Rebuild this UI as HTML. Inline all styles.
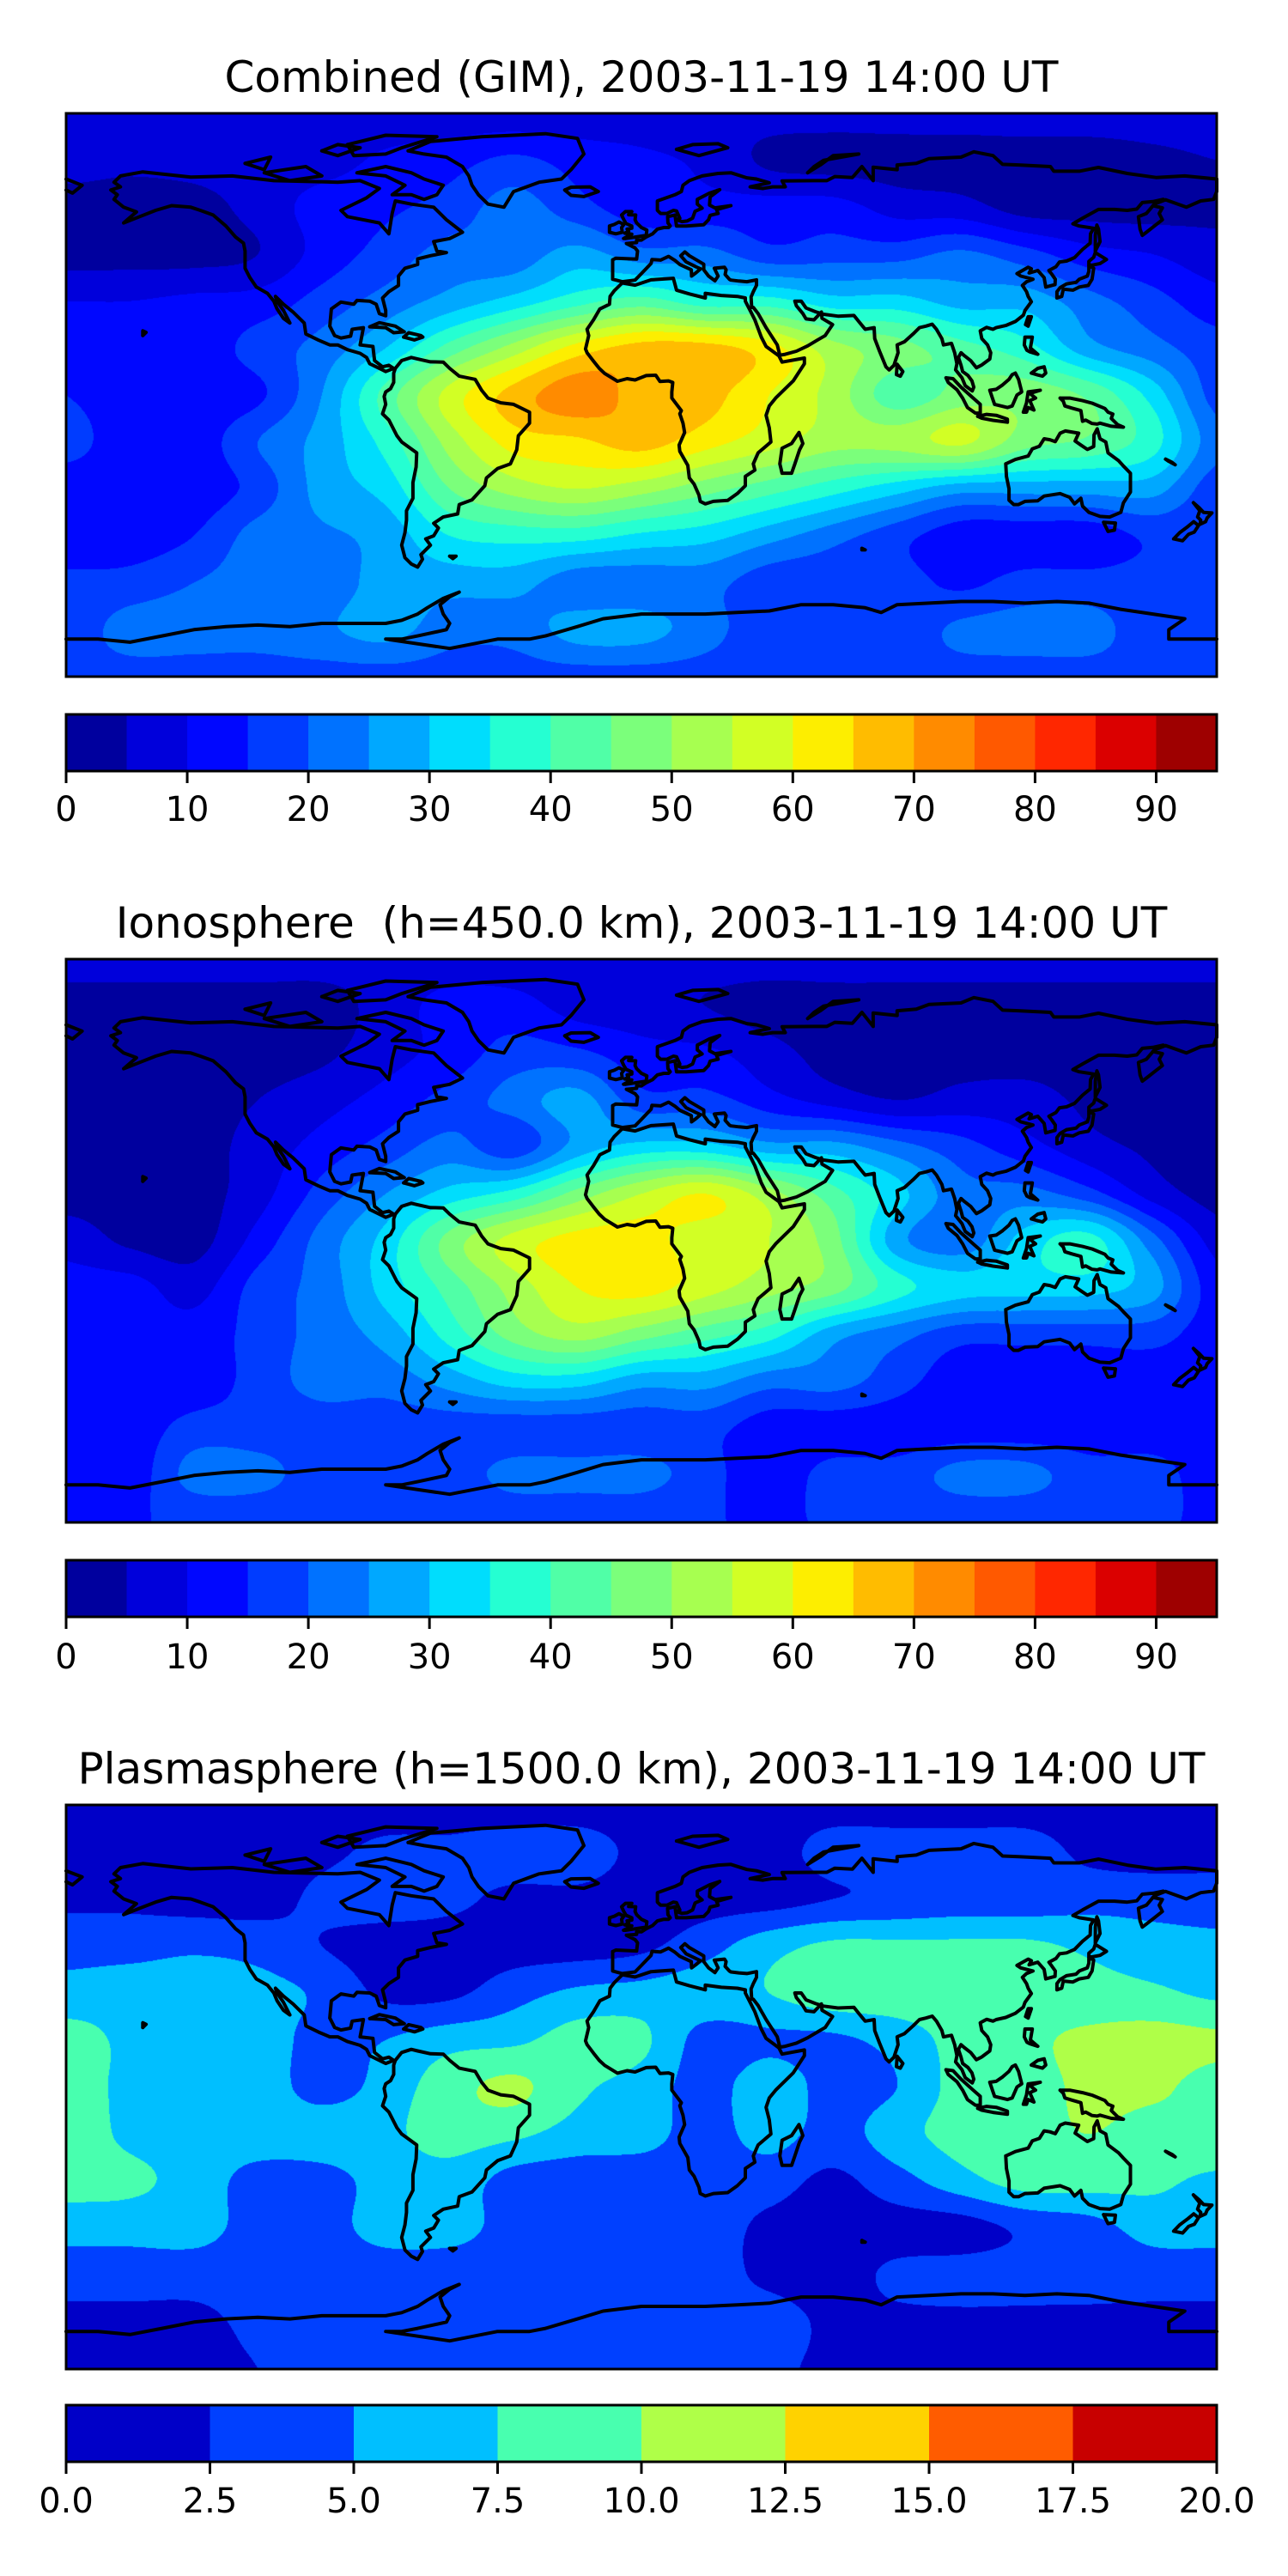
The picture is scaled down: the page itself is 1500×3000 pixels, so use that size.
<!DOCTYPE html>
<html><head><meta charset="utf-8">
<style>
html,body{margin:0;padding:0;background:#fff;}
#root{position:relative;width:1500px;height:3000px;background:#fff;overflow:hidden;}
canvas{position:absolute;left:77px;}
svg{position:absolute;left:0;top:0;}
text{font-family:"DejaVu Sans","Liberation Sans",sans-serif;fill:#000;white-space:pre;}
</style></head>
<body>
<div id="root">
<canvas id="c0" width="1340" height="656" style="top:132px"></canvas>
<canvas id="c1" width="1340" height="656" style="top:1117px"></canvas>
<canvas id="c2" width="1340" height="657" style="top:2102px"></canvas>
<svg id="ov" width="1500" height="3000"></svg>
</div>
<script>
// ---- data ----
const gridLats = [90,75,60,45,30,15,0,-15,-30,-45,-60,-75,-90];
const gridLons = [-180,-160,-140,-120,-100,-80,-60,-40,-20,0,20,40,60,80,100,120,140,160,180];
const tecCombined = [
[7,7,7,7,7,7,7,7,7,7,7,7,7,7,7,7,7,7,7],
[7,6,7,8,8,11,13,16,13,11,9,4,3,3,3,3,3,4,5],
[3,3,3,7,12,14,17,22,17,12,12,12,12,8,7,3,3,3,4],
[3,3,3,5,12,17,22,22,27,22,22,17,18,18,21,17,12,10,7],
[10,10,11,12,17,22,27,32,38,42,37,37,32,32,28,28,22,17,12],
[14,12,12,17,22,30,42,52,62,67,67,62,52,47,42,37,27,22,17],
[15,12,12,14,25,42,57,67,73,68,67,60,53,42,47,48,44,33,18],
[17,12,12,20,27,37,52,62,64,67,62,57,52,52,56,47,44,37,22],
[12,12,12,17,27,32,45,52,55,52,47,42,37,32,27,27,27,27,17],
[12,12,15,22,24,27,35,37,37,34,32,27,22,17,12,12,12,16,15],
[16,17,20,22,22,27,27,27,22,22,22,17,17,17,14,17,17,17,17],
[17,22,22,22,24,27,22,22,27,27,22,17,17,17,21,22,22,17,17],
[18,18,18,18,18,18,18,18,18,18,18,18,18,18,18,18,18,18,18]];
const tecIono = [
[7,7,7,7,7,7,7,7,7,7,7,7,7,7,7,7,7,7,7],
[3,3,3,3,3,7,12,12,8,7,5,3,3,3,3,3,3,3,3],
[3,3,3,3,4,8,12,17,16,12,11,7,3,3,3,3,3,3,3],
[3,3,3,5,8,12,17,22,27,17,17,12,8,5,7,7,4,3,3],
[3,3,3,7,12,17,22,17,27,32,32,27,27,22,17,12,7,4,3],
[3,3,3,8,17,25,32,37,47,55,60,52,42,32,22,22,17,8,3],
[8,4,3,12,22,32,47,57,62,62,57,55,47,27,22,32,37,22,8],
[12,12,8,17,22,32,42,52,60,62,57,52,47,37,32,32,32,27,12],
[12,12,12,17,22,27,37,47,52,47,42,37,27,22,17,17,17,17,12],
[12,12,12,17,22,22,27,32,32,27,27,22,22,17,12,12,12,12,12],
[12,12,17,17,17,17,17,17,17,17,17,12,12,12,12,12,12,12,12],
[12,12,22,22,17,17,17,22,22,22,17,12,17,17,22,22,17,17,12],
[15,15,15,15,15,15,15,15,15,15,15,15,15,15,15,15,15,15,15]];
const tecPlasma = [
[1.5,1.5,1.5,1.5,1.5,1.5,1.5,1.5,1.5,1.5,1.5,1.5,1.5,1.5,1.5,1.5,1.5,1.5,1.5],
[1.5,1.5,1.5,1.5,2,3,3,3.5,3.5,2,2,1.5,3.5,3.5,3.5,3.5,2,1.5,1.5],
[2,2,1.5,1.5,3,3.5,3,2,2,1.5,1.5,1.5,2.5,3,3.5,3.5,4,4,4],
[4,4,4.5,4,2.5,1.5,1.5,1.5,1.5,2,4,6.5,8,8,8,8,7,6,5.5],
[6,6.5,6.5,6,4.5,2,2,4,5.5,6,6.5,7.5,9,9,9,9,8.5,8,7],
[8.5,7,6.5,6.5,4,5,6.5,7,8.5,8,4,4.5,4.5,6,8.5,9.5,10.5,11,10.5],
[8.5,7,6.5,6.5,4,6,9,10.5,8,6.5,4,6.5,4,5,8.5,9,10.5,10.5,9],
[9,7,6.5,6.5,6.5,7,8.5,8,6.5,6,4,6,4,6.5,8.5,9,10,9,9.5],
[8.5,8,6.5,4,4,6,6.5,4,3.5,3.5,3.5,3.5,2,4,6.5,8.5,8.5,8,7],
[6,6,6,4,4,6,6,4,3.5,3.5,3.5,2,1.5,1.5,1.5,3,4,6,6],
[3.5,3.5,3.5,3.5,3.5,3.5,3.5,3.5,3.5,3.5,3.5,2,1.5,3,3.5,3.5,3.5,3.5,3.5],
[2,2,2,3,3.5,3.5,3.5,3.5,3.5,3.5,3.5,3.5,2,2,2,2,2,2,2],
[2,2,2,2.5,3.5,3.5,3.5,3.5,3.5,3.5,3.5,3,2,2,2,2,2,2,2]];
const levelsTec = [0,5,10,15,20,25,30,35,40,45,50,55,60,65,70,75,80,85,90,95];
const levelsPlasma = [0,2.5,5,7.5,10,12.5,15,17.5,20];
const ticksTec = [0,10,20,30,40,50,60,70,80,90];
const tickLabelsTec = ["0","10","20","30","40","50","60","70","80","90"];
const ticksPlasma = [0,2.5,5,7.5,10,12.5,15,17.5,20];
const tickLabelsPlasma = ["0.0","2.5","5.0","7.5","10.0","12.5","15.0","17.5","20.0"];
const titles = ["Combined (GIM), 2003-11-19 14:00 UT","Ionosphere  (h=450.0 km), 2003-11-19 14:00 UT","Plasmasphere (h=1500.0 km), 2003-11-19 14:00 UT"];

// coastlines [lon,lat]
const coasts = [
[[-165,68],[-163,70],[-156,71.3],[-141,69.6],[-128,70],[-115,68.5],[-95,68],[-88,68.5],[-82,66],[-86,63],[-94,59],[-92,57],[-82,55],[-79,51.5],[-78,58],[-77,62],[-72,61],[-65,60],[-61,56],[-56,52],[-60,50],[-65,49],[-64,46],[-61,45.5],[-66,44.5],[-70,43.5],[-70,41.7],[-74,40.5],[-76,38],[-76,35],[-79,33],[-81,31],[-80,27],[-80,25.3],[-82,26],[-83,29],[-85,30],[-89,30.2],[-90,29],[-94,29.7],[-97,27.5],[-97.5,22],[-96,19],[-94,18.2],[-91,18.8],[-90.5,21],[-87,21.5],[-88,16],[-84,15.5],[-83.5,11],[-81,9],[-79,9.5],[-77.5,8.5],[-80,7.5],[-81,8],[-85,10],[-86,12],[-88,13.3],[-92,14.5],[-95,16],[-97.5,16],[-101,17.5],[-105,19.5],[-105.5,23],[-109,26.5],[-112,29],[-114.5,31.5],[-114,30],[-112,27],[-110,23],[-112,24.5],[-114,27.5],[-115,30],[-117,32.5],[-120.5,34.5],[-122.5,37.5],[-124,40.5],[-124,46],[-124.5,48.5],[-127,50.5],[-130,54],[-134,57.5],[-138,59],[-141,60],[-147,60.5],[-152,59],[-157,57],[-162,55],[-158,58.5],[-162,60],[-165,62.5],[-164,64],[-166,65.5],[-163,66.5],[-165,68]],
[[-73,78],[-66,81],[-50,82.5],[-30,83.5],[-20,82],[-18,77],[-22,72],[-25,69],[-32,68],[-40,65],[-43,60],[-48,61],[-51,64],[-53,67],[-54,70],[-56,73],[-61,76],[-68,77],[-73,78]],
[[-80,73],[-72,71],[-68,69],[-62,67],[-64,64],[-68,62.5],[-72,64],[-78,64],[-74,67],[-80,70],[-89,71],[-80,73]],
[[-92,80],[-80,83],[-64,82.5],[-75,79],[-80,77],[-90,76.5],[-92,80]],
[[-118,71],[-105,73],[-100,70],[-110,68.5],[-118,71]],
[[-124,74],[-116,76],[-118,72],[-124,74]],
[[-100,78],[-95,80],[-88,79],[-95,76.5],[-100,78]],
[[-24,65.5],[-22,66.4],[-16,66.5],[-13.5,65],[-18,63.4],[-22,63.8],[-24,65.5]],
[[-77,8.5],[-75,11],[-72,12],[-70,11.5],[-66,10.6],[-62,10.5],[-60,8.5],[-57,6],[-52,5],[-50,1.5],[-48,-1],[-44,-2.5],[-40,-3],[-35,-5.5],[-35,-9],[-38.5,-13],[-39,-17.5],[-41,-22],[-45,-23.5],[-48.5,-26.5],[-49,-29],[-53,-33.5],[-57,-35],[-57.5,-38],[-62,-39],[-65,-41],[-63.5,-42.5],[-65,-45],[-67.5,-46],[-66,-48],[-69,-51],[-68.5,-52.5],[-70,-55],[-72,-54],[-74,-52],[-75,-48],[-74,-44],[-73.5,-40],[-73.5,-37],[-71.5,-33],[-71.5,-28],[-70.5,-23],[-70.3,-18.5],[-75,-15],[-76.5,-13],[-79,-8],[-81,-6],[-80,-3],[-80.5,-0.5],[-80,1],[-78.5,2],[-77.5,4],[-77.5,7],[-77,8.5]],
[[-6,35.8],[-2,35.1],[3,36.8],[10,37.3],[11,33.5],[15,32.3],[20,31],[20,32.5],[25,31.8],[30,31.5],[32.5,31],[32.5,30],[34,27],[35.5,24],[37.5,18.5],[39,15.5],[43,12.5],[44,10.5],[51,11.8],[51,10],[47.5,4.5],[42,-1],[40,-3.5],[39,-6.5],[40,-10.5],[40.5,-15],[36.5,-18.5],[35,-22],[35.5,-24],[32.5,-26],[32.5,-29],[30,-31.5],[27,-33.7],[22.5,-34],[20,-34.8],[18.4,-34],[18,-32],[16.5,-28.5],[15,-26.5],[14.5,-22.5],[12,-18],[11.8,-16],[13.5,-12],[13,-9],[12,-6],[12.5,-5],[9.5,-1],[9.5,1],[9.8,4],[8.5,4.5],[5.8,4.3],[4.5,6.3],[1.5,6.2],[-2,4.8],[-4.5,5.2],[-7.5,4.4],[-11.5,6.9],[-13.2,8.5],[-15,10.8],[-17,13.5],[-17.5,14.7],[-16.5,19],[-17,21],[-15,24],[-13,27.5],[-10,29],[-9.8,31.5],[-8.5,33.3],[-6,35.8]],
[[49.3,-12],[50.5,-15.5],[49.5,-17.5],[48,-22],[47,-25],[44,-25],[43.3,-22],[44,-17],[47,-15.5],[49.3,-12]],
[[-9,43.2],[-9,37],[-6,36.2],[-2,36.7],[0,38.8],[3,42],[3.3,43.3],[6,43.1],[8.5,44.3],[10.5,43],[12,41.7],[15.6,40],[15.7,38],[17,39],[18.5,40.3],[17,41],[14,42.5],[12.3,44.5],[13.6,45.7],[15,44.5],[19.5,41.8],[19.5,40],[21,38],[23,36.5],[24,38],[22.8,40.5],[26,40.8],[26.5,40],[26.2,38.5],[27.5,37],[28,36.7],[30.5,36.4],[33,36.2],[36,36.8],[36,35],[35,33],[34.3,31.3],[34.5,28],[35,28],[36.5,26],[39,21.5],[42.5,16],[43.3,12.7],[45,13],[48.5,14],[52,15.7],[55,17.5],[57.5,19],[59.8,22.5],[56.5,24.5],[56.3,26.5],[54,24],[51.5,24.3],[50.5,26],[48.5,28.5],[48,30],[50,30],[51.5,27.8],[54.5,26.6],[57,25.8],[61.5,25.2],[66.5,25.4],[68,23.5],[70,21],[72.8,21.5],[73,18],[74.5,14],[76.5,9],[77.5,8],[79,9.5],[80.3,13.5],[80,16],[82.3,17],[85,19.5],[87,21.5],[89,22],[91,22.6],[92.3,21],[94,18],[94.5,16],[97,16.5],[98,13.5],[98.7,10],[98.3,8],[100.3,5.5],[101.3,3],[103.5,1.3],[104,2.5],[103.4,4.5],[102.2,6.2],[100.5,7.5],[100,9.5],[99.2,12],[100,13.5],[101,12.6],[103,11],[104.8,8.7],[106.5,9.6],[109,11.5],[109.3,13.5],[108.3,16],[106.5,18],[106,20.5],[108,21.6],[110,21],[111,21.5],[114,22.2],[117,23.5],[119.5,25.5],[120,27],[122,29.8],[121,31.5],[120.5,33],[119.2,35],[120.5,36.2],[122.5,37],[118.7,38],[117.5,38.8],[121,40.8],[122,40.3],[121.3,39],[124,39.8],[126,37.5],[126.5,34.5],[129.4,35.3],[129.5,37],[128.4,38.6],[127.5,39.8],[129.7,41],[130.8,42.5],[133,42.8],[135.5,43.9],[138,46.5],[140.4,48.5],[140.5,51.5],[141.5,53.3],[137,54],[135,54.7],[138,56.5],[143,59.3],[148,59.3],[152,59],[155,59.4],[156.7,61.5],[160,61.8],[163.2,62.5],[160,60.5],[163,59.8],[162,58],[163,56],[160.5,54],[158,52],[156.7,51],[156,53],[155.5,57],[158,58],[160.5,61],[164,62.4],[170.5,60],[175,62],[179,62.5],[180,65],[180,69],[170,70],[161,69.5],[152,70.8],[143,72.7],[137,71.5],[129,71.5],[128,73],[118,73.5],[113,73.7],[110,76.5],[104,77.7],[100,76],[90,75.5],[86,74],[80,73.5],[80,72],[72.5,72.8],[72.5,68.5],[69,73],[66,69.5],[60.5,69.8],[58,68.5],[54,68.5],[44,68.4],[45,66.5],[41,66.5],[38,66],[34,66.5],[40,67.8],[36,69],[33,69.4],[28,71],[24,70.8],[19,70],[15,68.5],[13,67],[12.5,65],[10.5,64],[5,62],[5,59],[6,58],[8,58],[10,59],[11,58.8],[12,56.5],[11,56],[12.7,55.4],[14.3,55.6],[16,56.5],[16.8,58.7],[19,59.7],[17.5,61],[17.5,62.5],[21.3,64.5],[24.5,65.6],[21.5,63.3],[21.3,60.7],[23,59.8],[28,60.5],[23.5,59.2],[24,58],[21.5,57.4],[21,56],[19.5,54.4],[14,54],[11,54],[10.5,57.5],[8.2,57],[8.3,55],[9,54],[8.5,53.5],[7,53.5],[5,53],[3.5,51.5],[1.5,50.5],[0,49.5],[-1.5,49.5],[-1.5,48.7],[-4.7,48.4],[-2,47],[-1.2,46],[-1.5,43.4],[-8,43.7],[-9,43.2]],
[[-180,65.5],[-178,64.5],[-175,67],[-180,69]],
[[-5,50],[1.5,51],[1.7,52.7],[0,53.5],[-1.5,55],[-2,56],[-1.8,57.5],[-4,57.6],[-3,58.6],[-5,58.6],[-6.2,57.5],[-5.5,56],[-4.8,54.8],[-3,54],[-3,53.3],[-4.5,53],[-4,52.3],[-5.2,51.7],[-3,51.4],[-5.6,50],[-5,50]],
[[-6,52],[-6.2,53.5],[-5.5,54.5],[-7,55.3],[-8.5,54.5],[-10,54],[-10,52],[-8,51.5],[-6,52]],
[[130,31],[131.5,31.5],[132,33.8],[135,33.5],[137,34.5],[139.8,35],[141,37],[141.5,40.5],[140,41.3],[140,39.5],[139.5,38],[137,37],[136,36],[133,35.5],[131,34.3],[130,33],[130,31]],
[[140,41.5],[141,41.5],[143.5,42],[145.5,43.3],[142,45.5],[141.5,44],[140,42.7],[140,41.5]],
[[142,46],[143.5,49],[143,53],[142.5,54.3],[142,51],[142,46]],
[[120,18.5],[122.3,18.5],[121.7,15],[124,13],[121.5,13.8],[120.6,14.3],[119.8,16],[120,18.5]],
[[122,7],[124,8.5],[126,9],[126.5,7],[125.5,6],[124,6.4],[122,7]],
[[120.2,22.5],[121,25],[122,25],[121,22],[120.2,22.5]],
[[109,1.5],[110,-1.5],[110.5,-3],[114.5,-4],[116,-3.5],[117.5,0],[119,1],[118,5],[117,7],[116,6.5],[115,5],[113,3.2],[111,1.8],[109,1.5]],
[[95.3,5.5],[97.5,5.2],[100,2.5],[103.8,-1],[106,-3],[106,-5.8],[104.5,-5.8],[102,-4],[100.5,-1],[98.7,1.7],[96,4],[95.3,5.5]],
[[105.2,-6.8],[108,-6.2],[111,-6.5],[114.5,-7.7],[114.5,-8.7],[110,-8.1],[106.5,-7.4],[105.2,-6.8]],
[[119.5,-5.5],[120.5,-2.5],[121,1],[124.8,1.5],[121.5,0.5],[123.3,-1],[121.5,-1.8],[122.8,-4.8],[121,-4],[120.5,-5.5],[119.5,-5.5]],
[[131,-1],[134,-1],[138,-1.8],[141,-2.6],[145,-4.3],[146,-5.5],[147.5,-6.1],[147,-7.5],[149,-9.5],[150.8,-10.3],[147,-10],[143.5,-9],[142.6,-9.3],[141,-9.1],[139,-8],[138,-8.4],[137.5,-5],[134.7,-4.2],[132.5,-3.5],[132,-2],[131,-1]],
[[114,-22],[114.2,-26],[115,-30],[115,-33.6],[116.5,-35],[118,-35],[120,-34],[124,-33.8],[126,-32.3],[131,-31.5],[134,-32.7],[135.5,-34.8],[137.5,-33],[138,-35.5],[140,-37.5],[143.5,-38.8],[146.5,-39],[150,-37.5],[150.8,-34.5],[153,-31],[153,-27],[153,-25],[150.8,-22.7],[149.3,-21],[146,-18.5],[145.3,-15],[143.5,-14],[142.6,-10.8],[141.6,-12.8],[141.5,-16.5],[139.5,-17.4],[137.5,-16],[135.7,-14.7],[136.8,-12.2],[132.6,-11.5],[131,-12.2],[129.5,-14.9],[127.8,-14.3],[126,-14],[124.5,-16.4],[122.3,-17.2],[121,-19.5],[117,-20.6],[114,-22]],
[[144.6,-40.7],[148.3,-40.9],[148,-43.2],[146,-43.6],[144.6,-40.7]],
[[172.7,-34.4],[174.5,-36],[175.9,-37.5],[178.5,-37.7],[177,-39.3],[176.5,-40.5],[174.8,-41.3],[175,-40],[174,-39],[174.7,-37],[172.7,-34.4]],
[[172.8,-40.5],[174.3,-41.7],[173,-43.8],[171.2,-44.5],[169.3,-46.6],[166.5,-46],[168.4,-44],[171,-42],[172.8,-40.5]],
[[164,-20.5],[166,-21.5],[167,-22.3],[165,-21.2],[164,-20.5]],
[[-180,-78],[-170,-78],[-160,-79],[-150,-77],[-140,-75],[-130,-74],[-120,-73.5],[-110,-74],[-100,-73],[-90,-73],[-80,-73],[-75,-72],[-70,-70],[-67,-68],[-62,-65],[-57,-63],[-60,-64.5],[-63,-67],[-62,-70],[-60,-73],[-61,-75],[-70,-77],[-75,-78],[-80,-78],[-60,-81],[-45,-78],[-35,-78],[-30,-77],[-20,-74],[-12,-71.5],[0,-70],[10,-70],[20,-70],[30,-69.5],[40,-69],[50,-67],[60,-67],[70,-68],[75,-69.5],[80,-67],[90,-66.5],[100,-66],[110,-66],[120,-66.5],[130,-66],[140,-66.5],[150,-68.5],[160,-70],[170,-71.5],[165,-75],[165,-78],[180,-78]],
[[-85,21.8],[-82,23.1],[-77,22],[-74.2,20.2],[-77.5,19.9],[-80,21.5],[-85,21.8]],
[[-74.4,18.5],[-72.8,19.9],[-69,19],[-68.4,18.5],[-71,17.6],[-74.4,18.5]],
[[11,78.5],[16,80],[24,80.3],[27,79],[18,76.5],[11,78.5]],
[[52,71],[56,73.5],[60,76.5],[68,77],[57,75],[54,73],[52,71]],
[[80,9.8],[81.8,7.5],[81,6],[79.8,6.5],[80,9.8]],
[[-156,19],[-155,20],[-156,20.5],[-156,19]],
[[-60,-51.5],[-58,-51.5],[-59,-52.3],[-60,-51.5]],
[[69,-49],[70,-49.5],[69,-49.5],[69,-49]]
];

// ---- rendering ----
const MX = 77, MW = 1340;
const panels = [
 {title:titles[0], grid:tecCombined, levels:levelsTec, ticks:ticksTec, tlabels:tickLabelsTec, mapY:132, mapH:656, cbY:832, titleY:90, labY:943, canvas:'c0', name:'combined'},
 {title:titles[1], grid:tecIono, levels:levelsTec, ticks:ticksTec, tlabels:tickLabelsTec, mapY:1117, mapH:656, cbY:1817, titleY:1075, labY:1930, canvas:'c1', name:'ionosphere'},
 {title:titles[2], grid:tecPlasma, levels:levelsPlasma, ticks:ticksPlasma, tlabels:tickLabelsPlasma, mapY:2102, mapH:657, cbY:2801, titleY:2060, labY:2913, canvas:'c2', name:'plasmasphere'}
];
const jetR=[[0,0],[0.35,0],[0.66,1],[0.89,1],[1,0.5]];
const jetG=[[0,0],[0.125,0],[0.375,1],[0.64,1],[0.91,0],[1,0]];
const jetB=[[0,0.5],[0.11,1],[0.34,1],[0.65,0],[1,0]];
function seg(s,x){for(let i=1;i<s.length;i++){if(x<=s[i][0]){const t=(x-s[i-1][0])/(s[i][0]-s[i-1][0]);return s[i-1][1]+t*(s[i][1]-s[i-1][1]);}}return s[s.length-1][1];}
function jet(x){return [Math.round(seg(jetR,x)*255),Math.round(seg(jetG,x)*255),Math.round(seg(jetB,x)*255)];}
function levelColors(levels){const n=levels.length-1,lo=levels[0],hi=levels[n];const out=[];for(let i=0;i<n;i++){const m=(levels[i]+levels[i+1])/2;out.push(jet((m-lo)/(hi-lo)));}return out;}
function cr(p0,p1,p2,p3,t){return 0.5*((2*p1)+(-p0+p2)*t+(2*p0-5*p1+4*p2-p3)*t*t+(-p0+3*p1-3*p2+p3)*t*t*t);}
function sampleGrid(g,lat,lon){
 const nr=gridLats.length,nc=gridLons.length;
 const fy=(gridLats[0]-lat)/(gridLats[0]-gridLats[1]);
 const fx=(lon-gridLons[0])/(gridLons[1]-gridLons[0]);
 const iy=Math.min(Math.floor(fy),nr-2), ix=Math.min(Math.floor(fx),nc-2);
 const ty=fy-iy, tx=fx-ix;
 const rows=[];
 for(let k=-1;k<=2;k++){
  const r=g[Math.max(0,Math.min(nr-1,iy+k))];
  const c=j=>r[Math.max(0,Math.min(nc-1,j))];
  rows.push(cr(c(ix-1),c(ix),c(ix+1),c(ix+2),tx));
 }
 return cr(rows[0],rows[1],rows[2],rows[3],ty);
}
const svg=document.getElementById('ov');
const NS='http://www.w3.org/2000/svg';
function mk(tag,attrs,parent){const e=document.createElementNS(NS,tag);for(const k in attrs)e.setAttribute(k,attrs[k]);(parent||svg).appendChild(e);return e;}

panels.forEach(p=>{
 const cols=levelColors(p.levels);
 const lo=p.levels[0],hi=p.levels[p.levels.length-1],n=p.levels.length-1;
 const step=(hi-lo)/n;
 const cv=document.getElementById(p.canvas);
 const ctx=cv.getContext('2d');
 const H=cv.height;
 const img=ctx.createImageData(MW,H);
 for(let py=0;py<H;py++){
  const lat=90-(py+0.5)/H*180;
  for(let px=0;px<MW;px++){
   const lon=-180+(px+0.5)/MW*360;
   const v=sampleGrid(p.grid,lat,lon);
   let k=Math.floor((v-lo)/step);if(k<0)k=0;if(k>n-1)k=n-1;
   const c=cols[k],o=(py*MW+px)*4;
   img.data[o]=c[0];img.data[o+1]=c[1];img.data[o+2]=c[2];img.data[o+3]=255;
  }
 }
 ctx.putImageData(img,0,0);
 const t=mk('text',{x:747,y:p.titleY,'text-anchor':'middle','dominant-baseline':'central','font-size':'50'});
 t.textContent=p.title;
 
 
 const g=mk('g',{fill:'none',stroke:'#000','stroke-width':'4','stroke-linejoin':'round','stroke-linecap':'round'});
 
 
 const proj=(ll)=>[(MX+(ll[0]+180)/360*MW).toFixed(1),(p.mapY+(90-ll[1])/180*p.mapH).toFixed(1)];
 coasts.forEach(poly=>{
  const pl=mk('polyline',{points:poly.map(q=>proj(q).join(',')).join(' ')},g);
  
  
 });
 const fr=mk('rect',{x:MX,y:p.mapY,width:MW,height:p.mapH,fill:'none',stroke:'#000','stroke-width':'3'});
 
 
 const xs=v=>MX+(v-lo)/(hi-lo)*MW;
 const cb=mk('g',{});
 
 
 for(let i=0;i<n;i++){
  const c=cols[i];
  const r=mk('rect',{x:xs(p.levels[i]),y:p.cbY,width:xs(p.levels[i+1])-xs(p.levels[i])+0.5,height:66,fill:'rgb('+c.join(',')+')'},cb);
  
  
 }
 mk('rect',{x:MX,y:p.cbY,width:MW,height:66,fill:'none',stroke:'#000','stroke-width':'3'},cb);
 p.ticks.forEach((tv,i)=>{
  const x=xs(tv);
  const tk=mk('line',{x1:x,x2:x,y1:p.cbY+66,y2:p.cbY+80,stroke:'#000','stroke-width':'3'},cb);
  
  
  const tl=mk('text',{x:x,y:p.labY,'text-anchor':'middle','dominant-baseline':'central','font-size':'40'},cb);
  tl.textContent=p.tlabels[i];
  
  
 });
});
</script>
</body></html>
